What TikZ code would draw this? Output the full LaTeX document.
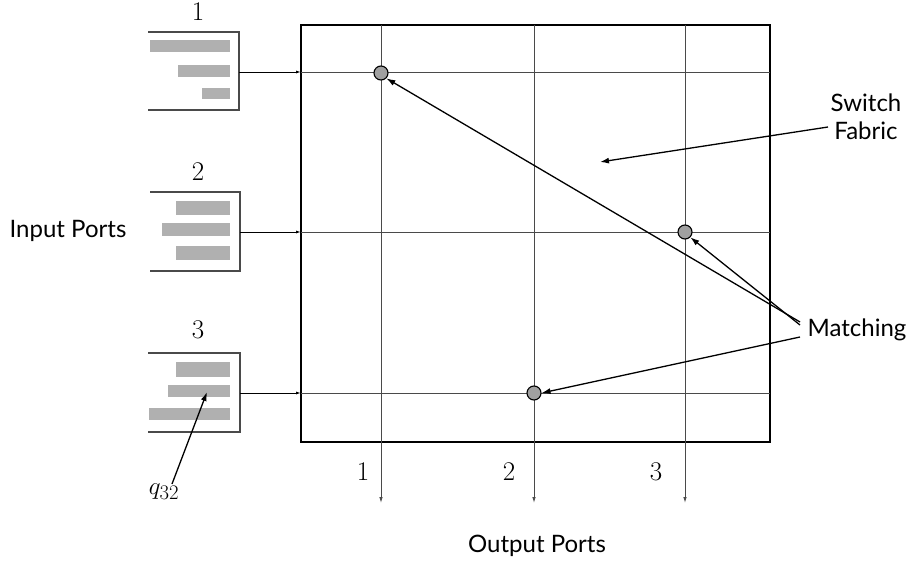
\documentclass[tikz,border=0pt]{standalone}
\usepackage{fontspec}
\setsansfont{Lato}
\usetikzlibrary{arrows.meta}
\definecolor{barg}{HTML}{B0B0B0}
\definecolor{gridg}{HTML}{4A4A4A}
\definecolor{dotg}{HTML}{A0A0A0}
\tikzset{
  bar/.style={fill=barg,draw=none},
  qbox/.style={draw=gridg,line width=1.3pt},
  gline/.style={draw=gridg,line width=0.9pt},
  feed/.style={draw=black,line width=0.9pt,-{Latex[length=5pt,width=3pt]}},
  outl/.style={draw=gridg,line width=0.9pt,-{Latex[length=6pt,width=3.5pt]}},
  point/.style={draw=black,line width=1.3pt,-{Latex[length=9pt,width=6pt]}},
  dot/.style={circle,fill=dotg,draw=black,line width=1.1pt,minimum size=14pt,inner sep=0pt},
  lab/.style={font=\sffamily\fontsize{24}{28}\selectfont,align=center},
  num/.style={font=\fontsize{27}{30}\selectfont},
}
\begin{document}
\begin{tikzpicture}[x=1pt,y=-1pt]
\useasboundingbox (0,0) rectangle (910,564);
% grid frame
\draw[black,line width=1.1pt] (301,25) rectangle (770,442);
% horizontal lines
\foreach \y/\n in {72/1,232/2,393/3}{
  \coordinate (hs\n) at (301,\y);
  \coordinate (he\n) at (770,\y);
  \draw[gline] (hs\n) -- (he\n);
}
% vertical lines
\foreach \x/\n in {381/1,534/2,685/3}{
  \coordinate (vs\n) at (\x,25);
  \coordinate (ve\n) at (\x,503);
  \draw[outl] (vs\n) -- (ve\n);
}
% queue 1
\draw[qbox] (148,32) -- (239,32) -- (239,110) -- (148,110);
\fill[bar] (150,40) rectangle (230,52);
\fill[bar] (178,65) rectangle (230,77);
\fill[bar] (202,88) rectangle (230,99);
\node[num] (q1) at (198,12) {1};
\coordinate (o1) at (239,72);
\draw[feed] (o1) -- (hs1);
% queue 2
\draw[qbox] (150,192) -- (240,192) -- (240,271) -- (150,271);
\fill[bar] (176,201) rectangle (230,215);
\fill[bar] (162,223) rectangle (230,236);
\fill[bar] (176,246) rectangle (230,260);
\node[num] (q2) at (198,172) {2};
\coordinate (o2) at (240,232);
\draw[feed] (o2) -- (hs2);
% queue 3
\draw[qbox] (148,353) -- (240,353) -- (240,432) -- (148,432);
\fill[bar] (176,362) rectangle (230,377);
\fill[bar] (168,385) rectangle (230,397);
\fill[bar] (149,408) rectangle (230,420);
\node[num] (q3) at (198,330) {3};
\coordinate (o3) at (240,393);
\draw[feed] (o3) -- (hs3);
% q32 label
\node[font=\fontsize{31}{34}\selectfont] (q32) at (164,492) {$q_{32}$};
\coordinate (q32s) at (172,484);
\coordinate (q32t) at (207,392);
\draw[point] (q32s) -- (q32t);
% dots
\node[dot] (d1) at (381,73) {};
\node[dot] (d2) at (685,232) {};
\node[dot] (d3) at (534,393) {};
% output labels
\node[num] (ol1) at (363,472) {1};
\node[num] (ol2) at (509,472) {2};
\node[num] (ol3) at (656,472) {3};
% text labels
\node[lab] (inp) at (68,231) {Input Ports};
\node[lab] (outp) at (537,546) {Output Ports};
\node[lab] (match) at (857,330) {Matching};
\node[lab] (sw) at (866,117) {Switch\\Fabric};
\coordinate (sws) at (828,127);
\coordinate (swt) at (600,162);
\draw[point] (sws) -- (swt);
\coordinate (m1) at (800,322);
\coordinate (m2) at (800,325);
\coordinate (m3) at (800,337);
\draw[point] (m1) -- (d1.south east);
\draw[point] (m2) -- (d2.south east);
\draw[point] (m3) -- (d3.east);
\end{tikzpicture}
\end{document}
